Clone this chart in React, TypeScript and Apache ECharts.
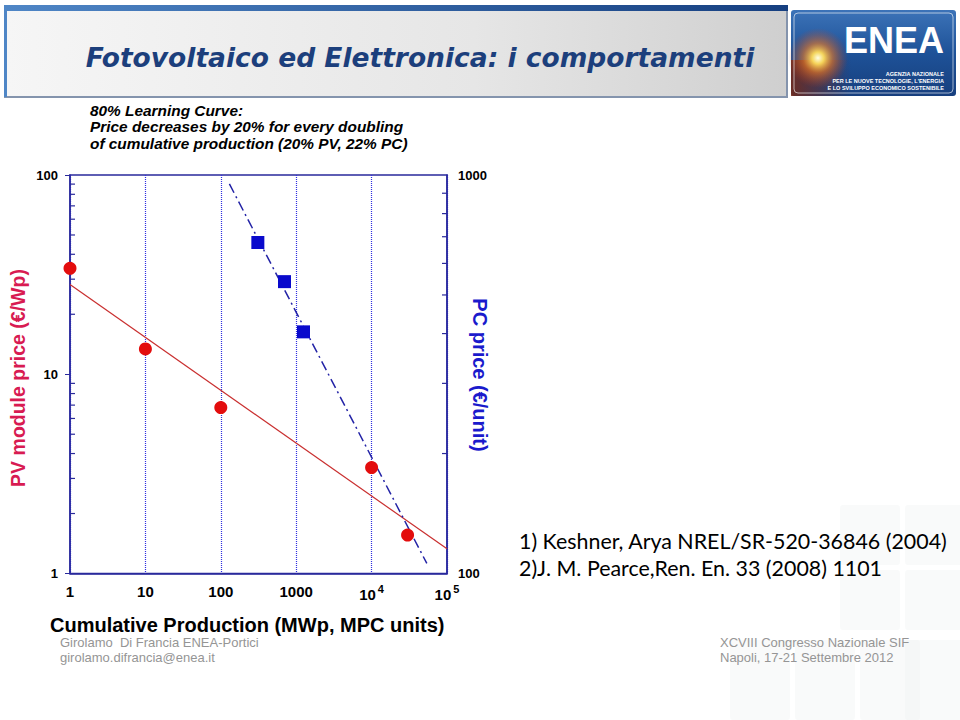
import React, { useEffect, useRef } from "react";
import * as echarts from "echarts";

// ---- data ----
const xTicks = [1, 10, 100, 1000, 10000, 100000];
const pvX = [1, 10, 100, 10000, 30000];
const pvY = [34, 13.4, 6.8, 3.4, 1.56];
const pcX = [310, 700, 1250];
const pcY = [677, 540, 404];
const pvFitX = [1, 100000];
const pvFitY = [28.2, 1.33];
const pcFitX = [130, 54000];
const pcFitY = [950, 106];
const leftMinor = [2, 3, 4, 5, 6, 7, 8, 9, 20, 30, 40, 50, 60, 70, 80, 90];
const rightMinor = [200, 300, 400, 500, 600, 700, 800, 900];

const titleText = "Fotovoltaico ed Elettronica: i comportamenti";
const noteLines = [
  "80% Learning Curve:",
  "Price decreases by 20% for every doubling",
  "of cumulative production (20% PV, 22% PC)",
];
const refLines = [
  "1) Keshner, Arya NREL/SR-520-36846 (2004)",
  "2)J. M. Pearce,Ren. En. 33 (2008) 1101",
];
const xName = "Cumulative Production (MWp, MPC units)";
const yLeftName = "PV module price (€/Wp)";
const yRightName = "PC price (€/unit)";
const footLeft = ["Girolamo  Di Francia ENEA-Portici", "girolamo.difrancia@enea.it"];
const footRight = ["XCVIII Congresso Nazionale SIF", "Napoli, 17-21 Settembre 2012"];
const logoLines = ["AGENZIA NAZIONALE", "PER LE NUOVE TECNOLOGIE, L'ENERGIA", "E LO SVILUPPO ECONOMICO SOSTENIBILE"];

const AX = "#2a2a9c";
const ARIAL = "'Liberation Sans', Arial, sans-serif";

export default function App() {
  const ref = useRef<HTMLDivElement>(null);
  useEffect(() => {
    if (!ref.current) return;
    const chart = echarts.init(ref.current, null, { renderer: "svg" });
    const labelStyle = { color: "#000", fontFamily: ARIAL, fontWeight: "bold", fontSize: 13 };

    const graphic: any[] = [
      // faint decorative squares
      ...[
        [840, 505, 60, 60], [905, 505, 60, 60], [840, 570, 60, 60], [905, 570, 60, 60],
        [730, 640, 60, 80], [795, 640, 60, 80], [860, 640, 60, 80], [905, 640, 60, 80],
      ].map(([x, y, w, h]) => ({
        type: "rect", shape: { x, y, width: w, height: h, r: 3 }, silent: true,
        style: { fill: "rgba(238,240,242,0.35)" }, z: -10,
      })),
      // header box
      {
        type: "rect", shape: { x: 5, y: 8, width: 782, height: 89 },
        style: {
          fill: new echarts.graphic.LinearGradient(0, 0, 1, 0, [
            { offset: 0, color: "#f6f6f6" }, { offset: 0.6, color: "#e6e6e6" }, { offset: 1, color: "#cfcfcf" },
          ]),
          stroke: "#8494ad", lineWidth: 2,
        },
      },
      {
        type: "rect", shape: { x: 4, y: 5, width: 784, height: 6 },
        style: {
          fill: new echarts.graphic.LinearGradient(0, 0, 1, 0, [
            { offset: 0, color: "#4f86c6" }, { offset: 1, color: "#163f80" },
          ]),
        },
      },
      { type: "rect", shape: { x: 4, y: 5, width: 3, height: 92 }, style: { fill: "#4f86c6" } },
      {
        type: "text", x: 420, y: 57,
        style: {
          text: titleText, fill: "#1c3f7c", font: "italic bold 26.5px 'DejaVu Sans', Verdana, sans-serif",
          align: "center", verticalAlign: "middle",
        },
      },
      // ENEA logo
      {
        type: "rect", shape: { x: 791, y: 10, width: 165, height: 86, r: 3 },
        style: {
          fill: new echarts.graphic.LinearGradient(0, 0, 0, 1, [
            { offset: 0, color: "#3c73b8" }, { offset: 0.5, color: "#1e5298" }, { offset: 1, color: "#173f7e" },
          ]),
        },
      },
      {
        type: "rect", shape: { x: 791, y: 60, width: 60, height: 36 },
        style: {
          fill: new echarts.graphic.LinearGradient(0, 0, 1, 0, [
            { offset: 0, color: "rgba(120,40,20,0.85)" }, { offset: 1, color: "rgba(120,40,20,0)" },
          ]),
        },
      },
      {
        type: "circle", shape: { cx: 818, cy: 58, r: 30 },
        style: {
          fill: new echarts.graphic.RadialGradient(0.5, 0.5, 0.5, [
            { offset: 0, color: "rgba(255,255,230,1)" }, { offset: 0.2, color: "rgba(255,220,90,0.95)" },
            { offset: 0.5, color: "rgba(240,120,30,0.6)" }, { offset: 1, color: "rgba(200,60,20,0)" },
          ]),
        },
      },
      {
        type: "rect", shape: { x: 794, y: 13, width: 159, height: 80, r: 4 },
        style: { fill: "none", stroke: "rgba(255,255,255,0.6)", lineWidth: 1 },
      },
      {
        type: "text", x: 894, y: 40,
        style: { text: "ENEA", fill: "#ffffff", font: "bold 36px 'Liberation Sans', Arial", align: "center", verticalAlign: "middle" },
      },
      ...logoLines.map((t, i) => ({
        type: "text", x: 944, y: 74 + i * 7,
        style: { text: t, fill: "#ffffff", font: "bold 5.5px 'Liberation Sans', Arial", align: "right", verticalAlign: "middle" },
      })),
      // note lines
      ...noteLines.map((t, i) => ({
        type: "text", x: 90, y: 110 + i * 16.5,
        style: { text: t, fill: "#000", font: `italic bold 15.4px ${ARIAL}`, align: "left", verticalAlign: "middle" },
      })),
      // axis titles
      {
        type: "text", x: 18, y: 378, rotation: Math.PI / 2,
        style: { text: yLeftName, fill: "#d81b52", font: `bold 19.5px ${ARIAL}`, align: "center", verticalAlign: "middle" },
      },
      {
        type: "text", x: 480, y: 375, rotation: -Math.PI / 2,
        style: { text: yRightName, fill: "#1a1acc", font: `bold 20px ${ARIAL}`, align: "center", verticalAlign: "middle" },
      },
      {
        type: "text", x: 50, y: 625,
        style: { text: xName, fill: "#000", font: `bold 20px ${ARIAL}`, align: "left", verticalAlign: "middle" },
      },
      // references
      ...refLines.map((t, i) => ({
        type: "text", x: 519, y: 541 + i * 27,
        style: { text: t, fill: "#000", font: "21.4px Lato, 'Open Sans', sans-serif", align: "left", verticalAlign: "middle" },
      })),
      // footer
      ...footLeft.map((t, i) => ({
        type: "text", x: 60, y: 642 + i * 15,
        style: { text: t, fill: "#959595", font: `13px ${ARIAL}`, align: "left", verticalAlign: "middle" },
      })),
      ...footRight.map((t, i) => ({
        type: "text", x: 720, y: 642 + i * 15,
        style: { text: t, fill: "#959595", font: `13px ${ARIAL}`, align: "left", verticalAlign: "middle" },
      })),
    ];

    chart.setOption({
      animation: false,
      backgroundColor: "#ffffff",
      graphic,
      grid: { left: 70, right: 513, top: 175, bottom: 146.5, show: true, borderColor: AX, borderWidth: 1.5 },
      xAxis: {
        type: "log", logBase: 10, min: xTicks[0], max: xTicks[xTicks.length - 1],
        axisLine: { lineStyle: { color: AX, width: 1.5 } },
        axisTick: { show: false },
        splitLine: { show: true, lineStyle: { color: "#2f2fe0", type: [1, 1], width: 1.2 } },
        axisLabel: {
          color: "#000", fontFamily: ARIAL, fontWeight: "bold", fontSize: 15, margin: 10,
          formatter: (v: number) =>
            v >= 10000 ? `{b|10}{s|${Math.round(Math.log10(v))}}` : `{b|${v}}`,
          rich: {
            b: { fontFamily: ARIAL, fontWeight: "bold", fontSize: 15, color: "#000" },
            s: { fontFamily: ARIAL, fontWeight: "bold", fontSize: 11, color: "#000", padding: [0, 0, 10, 2] },
          },
        },
      },
      yAxis: [
        {
          type: "log", logBase: 10, min: 1, max: 100, position: "left",
          axisLine: { show: true, lineStyle: { color: AX, width: 1.5 } },
          axisTick: { show: true, length: 5, lineStyle: { color: AX } },
          splitLine: { show: false },
          axisLabel: { ...labelStyle, margin: 12, formatter: (v: number) => String(v) },
        },
        {
          type: "log", logBase: 10, min: 100, max: 1000, position: "right",
          axisLine: { show: true, lineStyle: { color: AX, width: 1.5 } },
          axisTick: { show: false },
          splitLine: { show: false },
          axisLabel: { ...labelStyle, margin: 11, formatter: (v: number) => String(v) },
        },
      ],
      series: [
        {
          type: "scatter", silent: true, symbol: "rect", symbolSize: [5, 1.2], symbolOffset: [2.5, 0],
          itemStyle: { color: AX, opacity: 1 }, data: leftMinor.map((v) => [xTicks[0], v]), z: 1,
        },
        {
          type: "scatter", silent: true, yAxisIndex: 1, symbol: "rect", symbolSize: [5, 1.2], symbolOffset: [-2.5, 0],
          itemStyle: { color: AX, opacity: 1 }, data: rightMinor.map((v) => [xTicks[xTicks.length - 1], v]), z: 1,
        },
        {
          type: "line", showSymbol: false, silent: true,
          lineStyle: { color: "#c92f2f", width: 1.2 },
          data: pvFitX.map((x, i) => [x, pvFitY[i]]), z: 2,
        },
        {
          type: "line", yAxisIndex: 1, showSymbol: false, silent: true,
          lineStyle: { color: "#2323a6", width: 1.5, type: [10, 4, 2, 4] },
          data: pcFitX.map((x, i) => [x, pcFitY[i]]), z: 2,
        },
        {
          type: "scatter", symbol: "circle", symbolSize: 13,
          itemStyle: { color: "#e30d0d", opacity: 1 },
          data: pvX.map((x, i) => [x, pvY[i]]), z: 3,
        },
        {
          type: "scatter", yAxisIndex: 1, symbol: "rect", symbolSize: 13,
          itemStyle: { color: "#0a0acc", opacity: 1 },
          data: pcX.map((x, i) => [x, pcY[i]]), z: 3,
        },
      ],
    });
    return () => chart.dispose();
  }, []);
  return (
    <div
      ref={ref}
      style={{ position: "fixed", left: 0, top: 0, width: 960, height: 720 }}
    />
  );
}
